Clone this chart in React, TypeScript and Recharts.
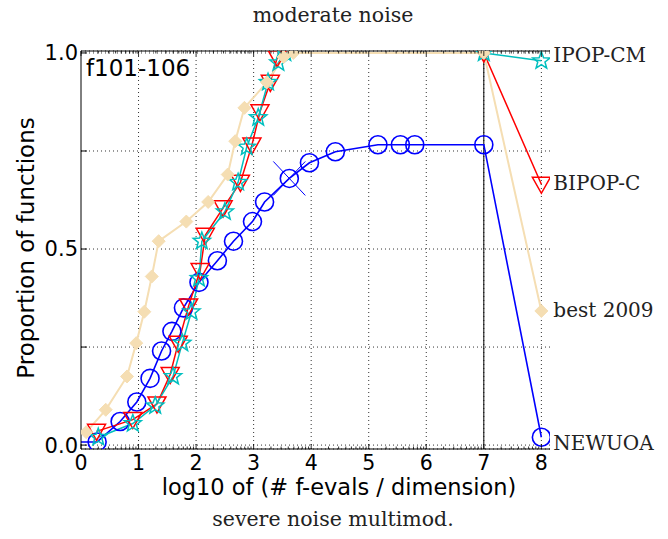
import React from 'react';
import { LineChart, Line, XAxis, YAxis, CartesianGrid, ReferenceLine, ReferenceDot } from 'recharts';

const W = 668;
const H = 539;

// x values are log10(#f-evals / dim), y values are proportions of functions
const newuoaX = [0, 0.28, 0.68, 0.97, 1.2, 1.4, 1.58, 1.78, 2.05, 2.37, 2.65, 2.98, 3.19, 3.62, 3.97, 4.42, 5.16, 5.55, 5.8, 7.0, 8.0];
const newuoaY = [0.008, 0.008, 0.06, 0.11, 0.17, 0.24, 0.29, 0.35, 0.415, 0.47, 0.52, 0.57, 0.62, 0.68, 0.72, 0.748, 0.766, 0.766, 0.766, 0.766, 0.02];
const newuoaSkip = [0];

const bipopX = [0.27, 0.9, 1.32, 1.55, 1.69, 1.87, 2.07, 2.16, 2.47, 2.77, 2.97, 3.11, 3.29, 3.41, 3.48, 7.0, 8.0];
const bipopY = [0.035, 0.065, 0.105, 0.18, 0.26, 0.355, 0.445, 0.535, 0.605, 0.67, 0.765, 0.85, 0.925, 0.988, 1.0, 1.0, 0.665];
const bipopSkip = [14];

const ipopX = [0.3, 0.9, 1.29, 1.6, 1.76, 1.92, 2.05, 2.1, 2.5, 2.73, 2.88, 3.08, 3.25, 3.43, 3.55, 7.0, 8.0];
const ipopY = [0.02, 0.055, 0.1, 0.175, 0.26, 0.34, 0.425, 0.52, 0.595, 0.67, 0.76, 0.835, 0.925, 0.975, 1.0, 1.0, 0.98];
const ipopSkip: number[] = [];

const bestX = [0, 0.09, 0.43, 0.8, 0.96, 1.1, 1.23, 1.35, 1.83, 2.21, 2.55, 2.68, 2.84, 3.23, 3.52, 3.69, 7.0, 8.0];
const bestY = [0.03, 0.033, 0.09, 0.175, 0.26, 0.34, 0.43, 0.52, 0.57, 0.62, 0.69, 0.775, 0.86, 0.925, 0.99, 1.0, 1.0, 0.342];
const bestSkip = [0];

// where the algorithm names sit at the right edge
const labelYs = { NEWUOA: 0.005, 'BIPOP-C': 0.669, 'best 2009': 0.345, 'IPOP-CM': 0.996 };

// median max evals cross on NEWUOA
const crossX = 3.62;
const crossY = 0.68;

const majorTicks = [0, 1, 2, 3, 4, 5, 6, 7, 8];
const minorTicks = majorTicks.flatMap((d) => [2, 3, 4, 5, 6, 7, 8, 9].map((k) => d + Math.log10(k))).filter((t) => t < 8.15);
const allTicks = [...majorTicks, ...minorTicks].sort((a, b) => a - b);
const yTicks = [0, 0.25, 0.5, 0.75, 1];
const yLabels = [0, 0.5, 1];

const sans = 'DejaVu Sans';
const serif = 'DejaVu Serif';

type Kind = 'circle' | 'tri' | 'star' | 'diamond';

const toPts = (xs: number[], ys: number[]) => xs.map((x, i) => ({ x, y: ys[i] }));

const series = [
  { name: 'NEWUOA', data: toPts(newuoaX, newuoaY), skip: newuoaSkip, color: '#0000ff', kind: 'circle' as Kind, width: 1.6 },
  { name: 'BIPOP-C', data: toPts(bipopX, bipopY), skip: bipopSkip, color: '#ff0000', kind: 'tri' as Kind, width: 1.5 },
  { name: 'IPOP-CM', data: toPts(ipopX, ipopY), skip: ipopSkip, color: '#00bfbf', kind: 'star' as Kind, width: 1.5 },
  { name: 'best 2009', data: toPts(bestX, bestY), skip: bestSkip, color: '#f5deb3', kind: 'diamond' as Kind, width: 2 },
];

function starPath(cx: number, cy: number, R: number, r: number) {
  const pts: string[] = [];
  for (let i = 0; i < 10; i++) {
    const rad = i % 2 === 0 ? R : r;
    const a = -Math.PI / 2 + (i * Math.PI) / 5;
    pts.push(`${cx + rad * Math.cos(a)},${cy + rad * Math.sin(a)}`);
  }
  return `M${pts.join('L')}Z`;
}

function marker(kind: Kind, cx: number, cy: number, color: string, key: string) {
  if (kind === 'circle')
    return <circle key={key} cx={cx} cy={cy} r={9} fill="none" stroke={color} strokeWidth={1.6} />;
  if (kind === 'tri')
    return (
      <path key={key} d={`M${cx - 9},${cy - 7}L${cx + 9},${cy - 7}L${cx},${cy + 9}Z`} fill="none" stroke={color} strokeWidth={1.5} />
    );
  if (kind === 'star')
    return <path key={key} d={starPath(cx, cy, 9, 3.8)} fill="none" stroke={color} strokeWidth={1.5} />;
  return <path key={key} d={`M${cx},${cy - 6.5}L${cx + 6.5},${cy}L${cx},${cy + 6.5}L${cx - 6.5},${cy}Z`} fill={color} stroke={color} />;
}

function BottomTick(props: any) {
  const { x, y, payload } = props;
  const v = payload.value;
  const major = Math.abs(v - Math.round(v)) < 1e-9;
  return (
    <g>
      <line x1={x} x2={x} y1={y} y2={y - (major ? 5 : 2.5)} stroke="#000" strokeWidth={0.8} />
      {major && (
        <text x={x} y={y + 21} textAnchor="middle" fontSize={20.5} fontFamily={sans} fill="#000">
          {Math.round(v)}
        </text>
      )}
    </g>
  );
}

function TopTick(props: any) {
  const { x, y, payload } = props;
  const v = payload.value;
  const major = Math.abs(v - Math.round(v)) < 1e-9;
  return <line x1={x} x2={x} y1={y} y2={y + (major ? 5 : 2.5)} stroke="#000" strokeWidth={0.8} />;
}

export default function App() {
  return (
    <div style={{ position: 'absolute', left: 0, top: 0, width: W, height: H, background: '#fff' }}>
      <LineChart width={W} height={H} margin={{ top: 50, right: 118, bottom: 60, left: 21 }}>
        <CartesianGrid vertical={false} stroke="#333" strokeDasharray="1 3" strokeWidth={1} />
        <XAxis
          dataKey="x"
          type="number"
          domain={[0, 8.15]}
          allowDataOverflow
          ticks={allTicks}
          interval={0}
          height={30}
          tickSize={0}
          tickMargin={0}
          tickLine={false}
          tick={<BottomTick />}
          axisLine={{ stroke: '#000' }}
        />
        <XAxis
          xAxisId="top"
          dataKey="x"
          type="number"
          orientation="top"
          domain={[0, 8.15]}
          allowDataOverflow
          ticks={allTicks}
          interval={0}
          height={1}
          tickSize={0}
          tickMargin={0}
          tickLine={false}
          tick={<TopTick />}
          axisLine={{ stroke: '#000' }}
        />
        <YAxis
          type="number"
          domain={[-0.01, 1.005]}
          allowDataOverflow
          ticks={yTicks}
          interval={0}
          width={60}
          tickSize={-6}
          tickMargin={9}
          tickLine={{ stroke: '#000' }}
          axisLine={{ stroke: '#000' }}
          tick={{ fontSize: 21, fontFamily: sans, fill: '#000' }}
          tickFormatter={(v: number) => (yLabels.includes(v) ? v.toFixed(1) : '')}
        />
        {majorTicks.slice(1).map((t) => (
          <ReferenceLine key={`g${t}`} x={t} stroke="#333" strokeDasharray="1 3" strokeWidth={1} />
        ))}
        <ReferenceLine x={7} stroke="#000" strokeWidth={1} />
        {series.map((s) => (
          <Line
            key={s.name}
            data={s.data}
            dataKey="y"
            type="linear"
            stroke={s.color}
            strokeWidth={s.width}
            isAnimationActive={false}
            activeDot={false}
            dot={(p: any) =>
              s.skip.includes(p.index) ? <g key={`${s.name}-${p.index}`} /> : marker(s.kind, p.cx, p.cy, s.color, `${s.name}-${p.index}`)
            }
          />
        ))}
        <ReferenceDot
          x={crossX}
          y={crossY}
          r={0}
          shape={(p: any) => (
            <g>
              <line x1={p.cx - 16} y1={p.cy - 17} x2={p.cx + 16} y2={p.cy + 17} stroke="#0000ff" strokeWidth={1} />
              <line x1={p.cx - 16} y1={p.cy + 17} x2={p.cx + 16} y2={p.cy - 17} stroke="#0000ff" strokeWidth={1} />
            </g>
          )}
        />
        {Object.entries(labelYs).map(([name, v]) => (
          <ReferenceDot
            key={name}
            x={8}
            y={v}
            r={0}
            shape={(p: any) => (
              <text x={p.cx + 12} y={p.cy} dominantBaseline="central" fontSize={20} fontFamily={serif} fill="#222">
                {name}
              </text>
            )}
          />
        ))}
      </LineChart>
      <svg width={W} height={H} style={{ position: 'absolute', left: 0, top: 0, pointerEvents: 'none' }}>
        <text x={333} y={22} textAnchor="middle" fontSize={20.5} fontFamily={serif} fill="#222">
          moderate noise
        </text>
        <text x={86} y={76} fontSize={23} fontFamily={sans} fill="#000">
          f101-106
        </text>
        <text x={339} y={495} textAnchor="middle" fontSize={22.5} fontFamily={sans} fill="#000">
          log10 of (# f-evals / dimension)
        </text>
        <text x={333} y={526} textAnchor="middle" fontSize={20.5} fontFamily={serif} fill="#222">
          severe noise multimod.
        </text>
        <text x={34} y={248} transform="rotate(-90 34 248)" textAnchor="middle" fontSize={23} fontFamily={sans} fill="#000">
          Proportion of functions
        </text>
      </svg>
    </div>
  );
}
